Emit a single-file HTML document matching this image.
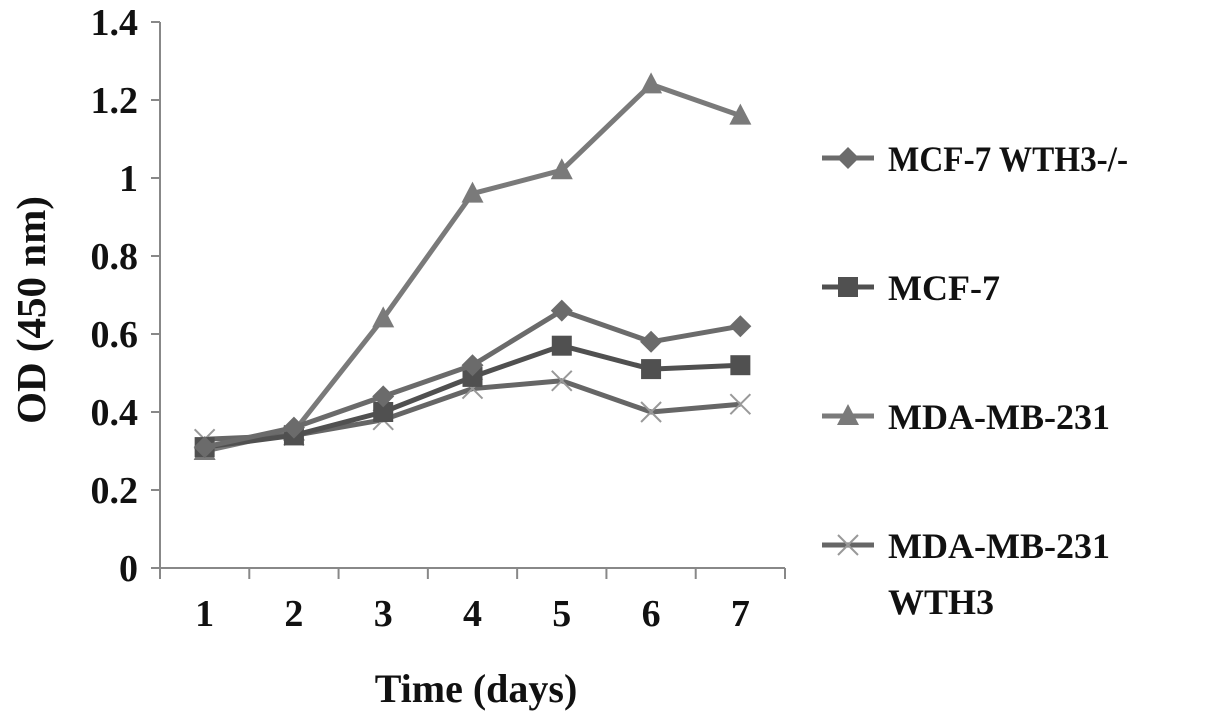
<!DOCTYPE html>
<html><head><meta charset="utf-8"><style>
html,body{margin:0;padding:0;background:#fff}
svg text{font-family:"Liberation Serif",serif;font-weight:bold;fill:#111}
</style></head><body>
<svg id="chart" width="1205" height="722" viewBox="0 0 1205 722" xmlns="http://www.w3.org/2000/svg">
<g id="axes"></g>
<g id="series"></g>
<g id="legend"></g>
<text transform="translate(45,310) rotate(-90)" text-anchor="middle" font-size="41">OD (450 nm)</text>
<text x="476" y="702" text-anchor="middle" font-size="40">Time (days)</text>
</svg>
<script>
const categories = ["1","2","3","4","5","6","7"];
const yTicks = [0,0.2,0.4,0.6,0.8,1,1.2,1.4];
const yTickLabels = ["0","0.2","0.4","0.6","0.8","1","1.2","1.4"];
const seriesNames = ["MCF-7 WTH3-/-","MCF-7","MDA-MB-231","MDA-MB-231 WTH3"];
const mcf7Wth3KO = [0.31,0.36,0.44,0.52,0.66,0.58,0.62];
const mcf7 = [0.31,0.34,0.40,0.49,0.57,0.51,0.52];
const mda231 = [0.30,0.35,0.64,0.96,1.02,1.24,1.16];
const mda231Wth3 = [0.33,0.34,0.38,0.46,0.48,0.40,0.42];

const NS="http://www.w3.org/2000/svg";
const x0=160,x1=785,y0=568,yTop=22,yMax=1.4;
const step=(x1-x0)/categories.length;
const xs=i=>x0+step*(i+0.5);
const ys=v=>y0-(v/yMax)*(y0-yTop);
function mk(tag,attrs,parent){const e=document.createElementNS(NS,tag);for(const k in attrs)e.setAttribute(k,attrs[k]);parent.appendChild(e);return e;}
const axes=document.getElementById('axes');
let l=mk('line',{x1:x0,y1:yTop,x2:x0,y2:y0,stroke:'#888','stroke-width':2},axes);


l=mk('line',{x1:x0,y1:y0,x2:x1,y2:y0,stroke:'#888','stroke-width':2},axes);


yTicks.forEach((v,i)=>{
  const t=mk('line',{x1:x0-9,y1:ys(v),x2:x0,y2:ys(v),stroke:'#888','stroke-width':2},axes);
  
  
  const tx=mk('text',{x:138,y:ys(v)+13,'text-anchor':'end','font-size':38},axes);
  tx.textContent=yTickLabels[i];
  
  
});
for(let i=0;i<=categories.length;i++){
  const t=mk('line',{x1:x0+step*i,y1:y0,x2:x0+step*i,y2:y0+11,stroke:'#888','stroke-width':2},axes);
  
  
}
categories.forEach((c,i)=>{
  const tx=mk('text',{x:xs(i),y:626,'text-anchor':'middle','font-size':38},axes);
  tx.textContent=c;
  
  
});
function marker(type,x,y,col,parent){
  let e;
  if(type==='diamond') e=mk('polygon',{points:`${x},${y-11} ${x+11},${y} ${x},${y+11} ${x-11},${y}`,fill:col},parent);
  else if(type==='square') e=mk('rect',{x:x-10,y:y-10,width:20,height:20,fill:col},parent);
  else if(type==='triangle') e=mk('polygon',{points:`${x},${y-12} ${x+11},${y+9} ${x-11},${y+9}`,fill:col},parent);
  else e=mk('path',{d:`M${x-10},${y-10}L${x+10},${y+10}M${x-10},${y+10}L${x+10},${y-10}`,stroke:'#999','stroke-width':2,fill:'none'},parent);
  return e;
}
const seriesData=[mcf7Wth3KO,mcf7,mda231,mda231Wth3];
const colors=['#6b6b6b','#505050','#7a7a7a','#666'];
const markers=['diamond','square','triangle','x'];
const sg=document.getElementById('series');
[2,3,1,0].forEach(k=>{
  const g=mk('g',{},sg);
  
  
  const p=mk('polyline',{points:seriesData[k].map((v,i)=>xs(i)+','+ys(v)).join(' '),fill:'none',stroke:colors[k],'stroke-width':5,'stroke-linejoin':'round'},g);
  
  
  seriesData[k].forEach((v,i)=>{
    const m=marker(markers[k],xs(i),ys(v),colors[k],g);
    
    
  });
});
const lg=document.getElementById('legend');
const ly=[158,287,416,545];
seriesNames.forEach((n,k)=>{
  const g=mk('g',{},lg);
  
  
  mk('line',{x1:822,y1:ly[k],x2:874,y2:ly[k],stroke:colors[k],'stroke-width':5},g);
  marker(markers[k],848,ly[k],colors[k],g);
  const t=mk('text',{x:888,y:ly[k]+13,'font-size':36,textLength:k===0?240:null},g);
  if(k===0){t.setAttribute('textLength','240');t.setAttribute('lengthAdjust','spacingAndGlyphs');}
  if(k===3){t.textContent='MDA-MB-231';const t2=mk('text',{x:888,y:ly[k]+69,'font-size':36},g);t2.textContent='WTH3';}
  else t.textContent=n;
});
</script>
</body></html>
